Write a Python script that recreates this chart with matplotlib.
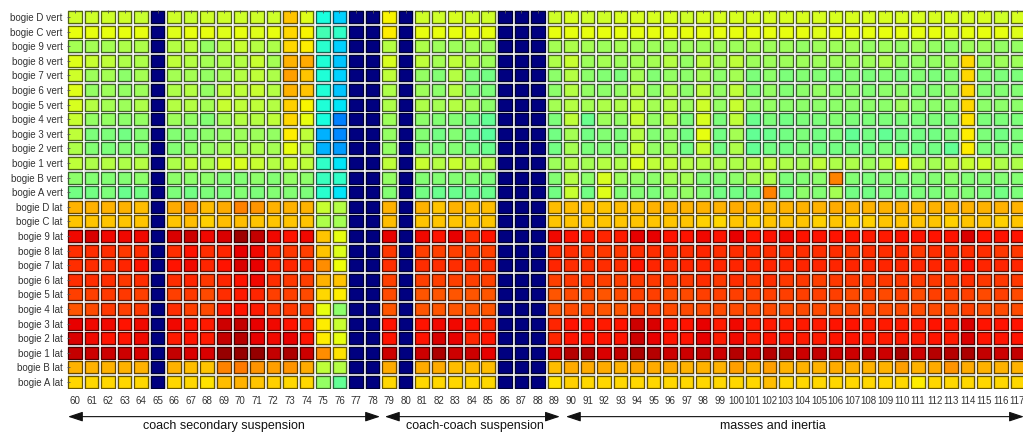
import numpy as np
import matplotlib.pyplot as plt
from matplotlib.patches import Rectangle
from matplotlib.collections import PatchCollection

plt.rcParams['font.family'] = ['Liberation Sans', 'DejaVu Sans']

columns = list(range(60, 118))
row_labels = ['bogie D vert', 'bogie C vert', 'bogie 9 vert', 'bogie 8 vert',
              'bogie 7 vert', 'bogie 6 vert', 'bogie 5 vert', 'bogie 4 vert',
              'bogie 3 vert', 'bogie 2 vert', 'bogie 1 vert', 'bogie B vert',
              'bogie A vert',
              'bogie D lat', 'bogie C lat', 'bogie 9 lat', 'bogie 8 lat',
              'bogie 7 lat', 'bogie 6 lat', 'bogie 5 lat', 'bogie 4 lat',
              'bogie 3 lat', 'bogie 2 lat', 'bogie 1 lat', 'bogie B lat',
              'bogie A lat']

# sensitivity level (0-100, jet scale), one list per row, columns 60..117
vert_values = [
    [60, 60, 60, 60, 59, 0, 60, 59, 60, 60, 60, 60, 60, 70, 62, 38, 33, 0, 0, 65, 0, 60, 60, 61, 60, 60, 0, 0, 0,
     60, 61, 60, 60, 61, 61, 61, 61,
     60, 61, 61, 61, 61, 61, 61, 61, 61, 61, 61, 61, 61, 61, 61, 61, 61, 61, 61, 60, 61],
    [63, 63, 63, 63, 63, 0, 62, 63, 63, 62, 63, 62, 63, 68, 65, 43, 41, 0, 0, 66, 0, 63, 63, 63, 63, 63, 0, 0, 0,
     63, 63, 63, 63, 63, 63, 63, 63,
     63, 63, 63, 63, 63, 63, 63, 63, 62, 63, 63, 63, 63, 63, 63, 63, 62, 63, 63, 63, 62],
    [55, 55, 55, 56, 56, 0, 57, 58, 53, 57, 59, 57, 56, 68, 66, 40, 33, 0, 0, 57, 0, 56, 54, 54, 54, 54, 0, 0, 0,
     55, 56, 55, 54, 55, 54, 54, 54,
     54, 54, 54, 54, 55, 54, 54, 53, 54, 54, 54, 53, 54, 53, 54, 53, 52, 54, 54, 53, 53],
    [62, 59, 58, 56, 56, 0, 58, 57, 55, 56, 57, 59, 55, 72, 73, 39, 32, 0, 0, 61, 0, 58, 55, 58, 56, 54, 0, 0, 0,
     56, 59, 54, 55, 54, 55, 55, 57,
     53, 58, 55, 58, 54, 54, 54, 54, 54, 54, 54, 54, 56, 53, 53, 53, 54, 68, 53, 54, 54],
    [60, 54, 55, 52, 55, 0, 55, 55, 53, 55, 57, 58, 56, 74, 70, 39, 33, 0, 0, 58, 0, 53, 51, 57, 50, 49, 0, 0, 0,
     52, 57, 52, 51, 50, 55, 51, 53,
     52, 55, 52, 55, 50, 52, 50, 51, 51, 50, 51, 50, 51, 50, 51, 50, 51, 68, 51, 50, 50],
    [62, 53, 54, 53, 54, 0, 56, 57, 53, 58, 58, 59, 57, 72, 70, 39, 32, 0, 0, 56, 0, 54, 52, 57, 51, 50, 0, 0, 0,
     52, 57, 53, 52, 53, 57, 52, 56,
     52, 58, 53, 58, 51, 53, 51, 52, 53, 52, 52, 51, 52, 52, 51, 51, 52, 68, 51, 51, 51],
    [61, 57, 55, 54, 56, 0, 57, 57, 55, 59, 58, 58, 57, 69, 65, 39, 35, 0, 0, 56, 0, 56, 55, 57, 55, 52, 0, 0, 0,
     55, 57, 55, 56, 56, 58, 55, 57,
     54, 60, 53, 59, 53, 53, 52, 52, 52, 52, 52, 52, 52, 54, 52, 52, 52, 68, 52, 52, 52],
    [59, 53, 53, 52, 53, 0, 54, 53, 51, 55, 57, 57, 58, 68, 63, 38, 25, 0, 0, 54, 0, 52, 51, 51, 49, 47, 0, 0, 0,
     50, 58, 48, 54, 53, 59, 53, 57,
     50, 61, 50, 58, 48, 50, 49, 50, 50, 51, 50, 50, 50, 50, 50, 50, 50, 67, 50, 50, 50],
    [58, 50, 50, 49, 51, 0, 51, 51, 52, 53, 54, 54, 53, 66, 58, 30, 26, 0, 0, 53, 0, 51, 49, 51, 48, 46, 0, 0, 0,
     49, 55, 49, 51, 50, 57, 51, 53,
     49, 63, 49, 55, 47, 48, 49, 50, 49, 50, 47, 49, 47, 49, 49, 49, 50, 66, 50, 49, 50],
    [56, 51, 50, 51, 51, 0, 51, 52, 53, 55, 55, 56, 55, 63, 57, 30, 28, 0, 0, 53, 0, 51, 50, 51, 49, 48, 0, 0, 0,
     49, 55, 50, 51, 51, 59, 53, 54,
     49, 59, 49, 56, 47, 49, 49, 50, 49, 49, 49, 49, 50, 49, 49, 49, 47, 66, 50, 50, 50],
    [58, 56, 57, 56, 57, 0, 56, 58, 56, 61, 61, 59, 57, 60, 58, 41, 35, 0, 0, 58, 0, 59, 57, 59, 57, 57, 0, 0, 0,
     54, 57, 55, 57, 56, 62, 58, 58,
     57, 57, 56, 56, 57, 58, 56, 55, 58, 56, 56, 54, 57, 66, 56, 55, 57, 59, 60, 56, 56],
    [52, 51, 51, 51, 52, 0, 52, 52, 52, 51, 51, 52, 51, 53, 52, 42, 41, 0, 0, 53, 0, 51, 51, 51, 51, 50, 0, 0, 0,
     51, 57, 52, 61, 54, 53, 52, 55,
     55, 51, 51, 52, 55, 56, 50, 51, 52, 77, 51, 50, 51, 51, 51, 51, 52, 51, 51, 51, 51],
    [49, 49, 50, 48, 49, 0, 50, 49, 50, 50, 51, 50, 51, 51, 50, 40, 35, 0, 0, 51, 0, 49, 48, 48, 48, 48, 0, 0, 0,
     49, 59, 49, 62, 51, 51, 50, 52,
     53, 51, 49, 49, 49, 77, 49, 52, 51, 55, 49, 49, 50, 49, 50, 50, 51, 51, 50, 49, 50],
]

lat_values = [
    [72, 72, 72, 72, 71, 0, 73, 75, 71, 73, 77, 75, 72, 72, 72, 59, 57, 0, 0, 72, 0, 72, 70, 72, 71, 71, 0, 0, 0,
     71, 71, 71, 70, 71, 71, 72, 72,
     72, 72, 72, 73, 72, 72, 72, 72, 72, 73, 72, 72, 72, 72, 72, 72, 72, 72, 72, 72, 72],
    [70, 70, 70, 70, 70, 0, 70, 71, 69, 71, 71, 70, 70, 70, 70, 56, 55, 0, 0, 71, 0, 70, 70, 70, 70, 70, 0, 0, 0,
     70, 70, 70, 70, 70, 70, 70, 70,
     70, 69, 68, 70, 69, 70, 70, 70, 69, 70, 69, 69, 70, 70, 70, 70, 69, 70, 70, 69, 70],
    [90, 92, 90, 90, 90, 0, 92, 93, 90, 92, 97, 94, 90, 89, 90, 70, 63, 0, 0, 91, 0, 90, 89, 91, 86, 89, 0, 0, 0,
     90, 89, 88, 87, 88, 91, 91, 89,
     89, 90, 89, 91, 89, 89, 90, 89, 89, 89, 89, 88, 88, 89, 89, 89, 89, 92, 89, 89, 89],
    [86, 86, 86, 85, 86, 0, 86, 89, 86, 87, 91, 90, 86, 85, 84, 70, 62, 0, 0, 85, 0, 84, 84, 84, 84, 84, 0, 0, 0,
     86, 86, 85, 85, 85, 86, 86, 86,
     86, 87, 86, 86, 86, 86, 86, 86, 86, 86, 85, 86, 86, 86, 85, 86, 86, 86, 86, 85, 85],
    [86, 86, 86, 87, 89, 0, 89, 90, 87, 89, 92, 91, 87, 87, 86, 76, 64, 0, 0, 86, 0, 86, 86, 86, 86, 86, 0, 0, 0,
     87, 86, 86, 86, 86, 89, 87, 86,
     87, 87, 87, 87, 87, 87, 87, 87, 87, 87, 87, 87, 87, 87, 87, 87, 87, 89, 87, 87, 87],
    [86, 86, 86, 85, 86, 0, 86, 87, 85, 87, 89, 90, 86, 85, 84, 72, 70, 0, 0, 84, 0, 84, 84, 84, 84, 84, 0, 0, 0,
     84, 85, 85, 84, 84, 85, 85, 85,
     85, 86, 85, 86, 85, 86, 85, 85, 84, 85, 85, 85, 85, 85, 85, 85, 85, 86, 85, 85, 85],
    [84, 84, 85, 85, 84, 0, 84, 85, 83, 86, 88, 87, 84, 84, 83, 68, 66, 0, 0, 83, 0, 82, 82, 82, 82, 82, 0, 0, 0,
     82, 83, 83, 82, 83, 84, 84, 83,
     83, 84, 84, 84, 84, 84, 84, 84, 84, 84, 83, 84, 83, 84, 83, 84, 84, 84, 83, 84, 83],
    [82, 83, 85, 84, 85, 0, 86, 84, 83, 88, 89, 88, 85, 85, 84, 63, 52, 0, 0, 82, 0, 82, 82, 82, 82, 82, 0, 0, 0,
     82, 83, 83, 82, 82, 84, 84, 83,
     83, 83, 83, 83, 83, 83, 83, 83, 83, 83, 83, 83, 83, 83, 83, 83, 83, 84, 83, 83, 83],
    [91, 90, 90, 89, 90, 0, 90, 89, 88, 93, 94, 91, 90, 89, 87, 66, 59, 0, 0, 89, 0, 89, 90, 90, 89, 87, 0, 0, 0,
     87, 89, 89, 88, 89, 93, 92, 89,
     89, 91, 88, 90, 88, 88, 88, 88, 88, 89, 89, 88, 88, 88, 88, 89, 88, 92, 89, 89, 89],
    [92, 90, 89, 89, 90, 0, 88, 89, 88, 94, 95, 91, 90, 91, 89, 66, 63, 0, 0, 89, 0, 89, 92, 91, 87, 89, 0, 0, 0,
     87, 89, 89, 89, 89, 93, 91, 89,
     89, 91, 88, 90, 88, 89, 89, 88, 88, 89, 89, 88, 88, 88, 88, 89, 88, 92, 89, 89, 89],
    [94, 93, 93, 93, 92, 0, 94, 92, 92, 98, 98, 98, 94, 96, 93, 76, 67, 0, 0, 93, 0, 93, 96, 93, 93, 91, 0, 0, 0,
     92, 95, 95, 92, 94, 96, 95, 93,
     93, 94, 93, 95, 93, 95, 95, 93, 94, 93, 93, 94, 93, 96, 93, 95, 95, 96, 94, 93, 94],
    [72, 72, 72, 72, 72, 0, 72, 71, 70, 77, 78, 75, 74, 75, 73, 58, 57, 0, 0, 73, 0, 73, 73, 71, 71, 71, 0, 0, 0,
     71, 73, 73, 73, 72, 73, 73, 73,
     72, 72, 72, 74, 72, 74, 72, 72, 72, 73, 72, 72, 72, 74, 72, 73, 75, 73, 72, 72, 72],
    [68, 68, 68, 68, 68, 0, 68, 68, 67, 71, 72, 70, 69, 68, 68, 53, 47, 0, 0, 68, 0, 68, 68, 68, 68, 68, 0, 0, 0,
     67, 69, 68, 68, 68, 68, 68, 68,
     68, 68, 68, 68, 68, 71, 68, 68, 68, 68, 68, 68, 68, 68, 66, 68, 68, 68, 68, 68, 68],
]

# parameter groups along the bottom axis
groups = ['coach secondary suspension', 'coach-coach suspension', 'masses and inertia']
group_spans = [(59.58, 78.45), (78.75, 89.33), (89.7, 117.4)]
group_text_x = [69.0, 84.2, 102.2]

for r in vert_values + lat_values:
    assert len(r) == len(columns), len(r)

values = np.array(vert_values + lat_values) / 100.0
cmap = plt.get_cmap('jet')

fig = plt.figure(figsize=(10.23, 4.34), dpi=100)
ax = fig.add_axes([0.0652, 0.103, 0.9373, 0.8746])

halo = []
cells = []
faces = []
edges = []
for i in range(values.shape[0]):
    for j, c in enumerate(columns):
        halo.append(Rectangle((c - 0.45, i - 0.45), 0.90, 0.90))
        cells.append(Rectangle((c - 0.41, i - 0.41), 0.82, 0.82))
        rgb = np.array(cmap(values[i, j])[:3])
        faces.append(rgb)
        edges.append(rgb * 0.4)

ax.add_collection(PatchCollection(halo, facecolor='none', edgecolor='#dcdcdc', linewidth=0.5))
ax.add_collection(PatchCollection(cells, facecolor=faces, edgecolor=edges, linewidth=0.9))

ax.set_xlim(columns[0] - 0.5, columns[-1] + 0.5)
ax.set_ylim(len(row_labels) - 0.5, -0.5)
ax.set_xticks(columns)
ax.set_xticklabels([str(c) for c in columns], fontsize=7, color='#333333')
ax.set_yticks(range(len(row_labels)))
ax.set_yticklabels(row_labels, fontsize=7, color='#333333')
ax.tick_params(axis='x', bottom=False, top=True, direction='in', length=2, width=0.6,
               color='#555555', pad=5)
ax.tick_params(axis='y', left=True, direction='in', length=2, width=0.6,
               color='#555555', pad=3)
for s in ax.spines.values():
    s.set_visible(False)

tr = ax.get_xaxis_transform()
for name, (x0, x1), tx in zip(groups, group_spans, group_text_x):
    ax.annotate('', xy=(x1, -0.072), xytext=(x0, -0.072), xycoords=tr, textcoords=tr,
                annotation_clip=False,
                arrowprops=dict(arrowstyle='<|-|>,head_length=0.9,head_width=0.3',
                                color='#111111', lw=0.8, shrinkA=0, shrinkB=0))
    ax.text(tx, -0.097, name, transform=tr, ha='center', va='center',
            fontsize=9, color='#111111', clip_on=False)

fig.savefig('out.png', dpi=100)
